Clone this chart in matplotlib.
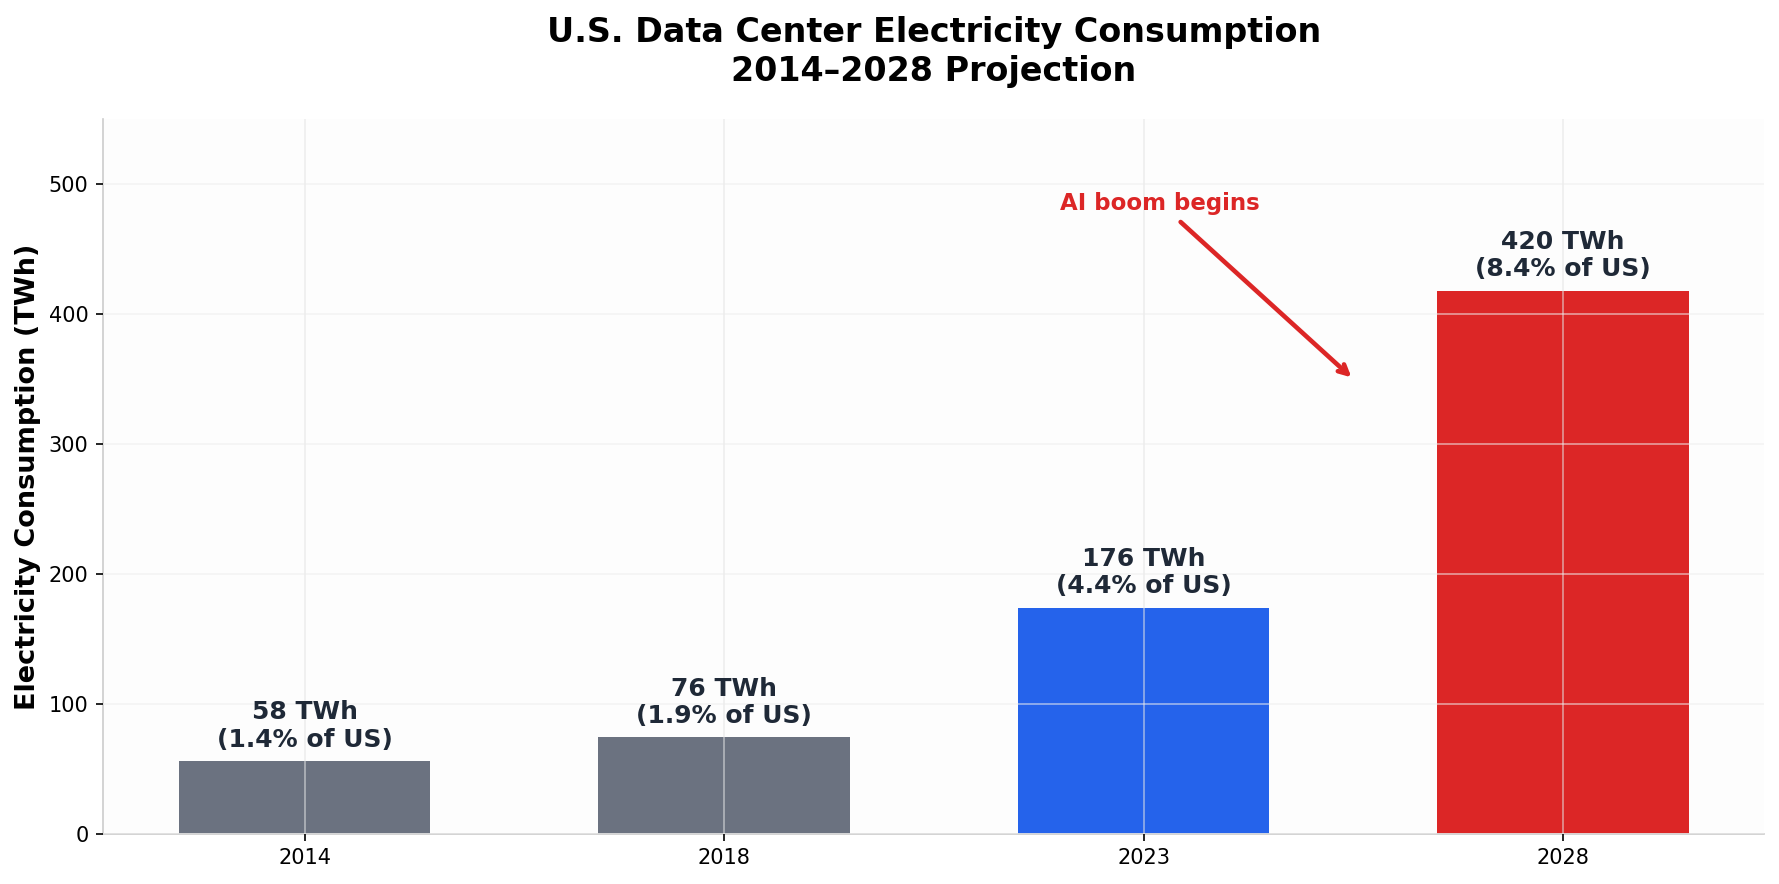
import matplotlib
matplotlib.use("Agg")
import matplotlib.pyplot as plt

# data
years = ["2014", "2018", "2023", "2028"]
twh = [56, 74, 174, 418]          # bar heights as drawn
labels = ["58 TWh\n(1.4% of US)", "76 TWh\n(1.9% of US)",
          "176 TWh\n(4.4% of US)", "420 TWh\n(8.4% of US)"]
colors = ["#6b7280", "#6b7280", "#2563eb", "#dc2626"]

fig = plt.figure(figsize=(1779 / 150, 884 / 150), dpi=150)
ax = fig.add_axes([0.058, 0.057, 0.9338, 0.8083])
ax.set_facecolor("#fdfdfd")

x = range(len(years))
bars = ax.bar(x, twh, width=0.6, color=colors, zorder=1)
ax.set_xticks(list(x))
ax.set_xticklabels(years)

for b, lab in zip(bars, labels):
    ax.text(b.get_x() + b.get_width() / 2, b.get_height() + 7, lab,
            ha="center", va="bottom", fontsize=12, fontweight="bold",
            color="#1f2937", linespacing=1.2, zorder=3)

ax.annotate("AI boom begins", xy=(2.503, 349), xytext=(2.04, 485),
            ha="center", va="center", fontsize=11, fontweight="bold",
            color="#dc2626",
            arrowprops=dict(arrowstyle="->", color="#dc2626", lw=2.2))

ax.set_ylim(0, 550)
ax.set_ylabel("Electricity Consumption (TWh)", fontsize=13, fontweight="bold")
ax.tick_params(labelsize=10)
ax.grid(True, axis="x", color="#e4e4e4", alpha=0.6, zorder=2)
ax.grid(True, axis="y", color="#eeeeee", alpha=0.6, zorder=2)
ax.set_axisbelow(False)
for s in ("top", "right"):
    ax.spines[s].set_visible(False)
for s in ("left", "bottom"):
    ax.spines[s].set_color("#cccccc")

ax.set_title("U.S. Data Center Electricity Consumption\n2014\u20132028 Projection",
             fontsize=16, fontweight="bold", pad=18.5)

fig.savefig("out.png", dpi=150)
plt.close(fig)
